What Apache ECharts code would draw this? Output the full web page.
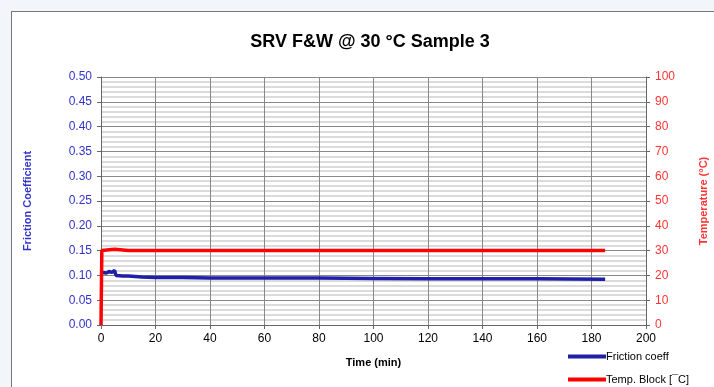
<!DOCTYPE html>
<html>
<head>
<meta charset="utf-8">
<script src="https://cdn.jsdelivr.net/npm/echarts@6/dist/echarts.min.js"></script>
<style>
  html, body { margin: 0; padding: 0; background: #f2f5fa; }
  #frame {
    position: absolute; left: 11px; top: 11px; width: 720px; height: 400px;
    background: #fff; border: 1px solid #777;
  }
  #chart { position: absolute; left: 0; top: 0; width: 714px; height: 387px; }
</style>
</head>
<body>
<div id="frame"></div>
<div id="chart"></div>
<script>
// time (min) vs friction coefficient
var frictionTime = [0.3, 1, 2, 3, 4, 5, 5.5, 8, 10, 15, 20, 30, 40, 60, 80, 100, 120, 140, 160, 185];
var frictionVals = [0.106, 0.110, 0.105, 0.108, 0.106, 0.110, 0.100, 0.099, 0.099, 0.097, 0.096, 0.096, 0.095, 0.095, 0.095, 0.094, 0.093, 0.093, 0.093, 0.092];
// time (min) vs block temperature
var tempTime = [0, 0.3, 5, 10, 20, 40, 60, 80, 100, 120, 140, 160, 185];
var tempVals = [0, 30, 30.5, 30, 30, 30, 30, 30, 30, 30, 30, 30, 30];

function pairs(xs, ys) {
  return xs.map(function (x, i) { return [x, ys[i]]; });
}

var chart = echarts.init(document.getElementById('chart'));
var blue = '#1f1fa8';
var red = '#ff0000';
var font = 'Liberation Sans';

function legendAt(top, name) {
  return {
    left: 563, top: top,
    itemWidth: 38, itemHeight: 4, itemGap: 0,
    icon: 'rect',
    textStyle: { fontFamily: font, fontSize: 11, color: '#000', padding: [0, 0, 0, -5] },
    data: [name]
  };
}

chart.setOption({
  animation: false,
  title: {
    text: 'SRV F&W @ 30 °C Sample 3',
    left: 365, top: 28, textAlign: 'center',
    textStyle: { fontFamily: font, fontSize: 18, fontWeight: 'bold', color: '#000' }
  },
  legend: [legendAt(346, 'Friction coeff'), legendAt(369, 'Temp. Block [¯C]')],
  grid: { left: 101, right: 68, top: 77, bottom: 62, outerBoundsMode: 'none', containLabel: false },
  xAxis: {
    type: 'value', min: 0, max: 200, interval: 20,
    name: 'Time (min)', nameLocation: 'middle', nameGap: 32,
    nameTextStyle: { fontFamily: font, fontSize: 11, fontWeight: 'bold', color: '#000' },
    axisLine: { show: true, lineStyle: { color: '#666' } },
    axisTick: { show: true, inside: false, length: 4, lineStyle: { color: '#666' } },
    axisLabel: { fontFamily: font, fontSize: 12, color: '#000', margin: 8 },
    splitLine: { show: true, lineStyle: { color: '#888', width: 1 } }
  },
  yAxis: [{
    type: 'value', min: 0, max: 0.5, interval: 0.05, position: 'left',
    name: 'Friction Coefficient', nameLocation: 'middle', nameGap: 68,
    nameTextStyle: { fontFamily: font, fontSize: 11, fontWeight: 'bold', color: '#3333cc' },
    axisLine: { show: true, lineStyle: { color: '#666' } },
    axisTick: { show: true, length: 4, lineStyle: { color: '#666' } },
    axisLabel: { fontFamily: font, fontSize: 12, color: '#3333cc', margin: 9,
      formatter: function (v) { return v.toFixed(2); } },
    splitLine: { show: true, lineStyle: { color: '#888', width: 1 } },
    minorTick: { show: false, splitNumber: 5 },
    minorSplitLine: { show: true, lineStyle: { color: '#cfcfcf', width: 1.5 } }
  }, {
    type: 'value', min: 0, max: 100, interval: 10, position: 'right',
    name: 'Temperature (°C)', nameLocation: 'middle', nameGap: 52, nameRotate: 90,
    nameTextStyle: { fontFamily: font, fontSize: 11, fontWeight: 'bold', color: '#ff3333' },
    axisLine: { show: true, lineStyle: { color: '#666' } },
    axisTick: { show: true, length: 4, lineStyle: { color: '#666' } },
    axisLabel: { fontFamily: font, fontSize: 12, color: '#ff3333', margin: 9 },
    splitLine: { show: false }
  }],
  series: [{
    name: 'Friction coeff', type: 'line', yAxisIndex: 0,
    data: pairs(frictionTime, frictionVals),
    showSymbol: false, symbol: 'none',
    itemStyle: { color: blue },
    lineStyle: { color: blue, width: 3.5 }
  }, {
    name: 'Temp. Block [¯C]', type: 'line', yAxisIndex: 1,
    data: pairs(tempTime, tempVals),
    showSymbol: false, symbol: 'none',
    itemStyle: { color: red },
    lineStyle: { color: red, width: 3.5 }
  }]
});
</script>
</body>
</html>
